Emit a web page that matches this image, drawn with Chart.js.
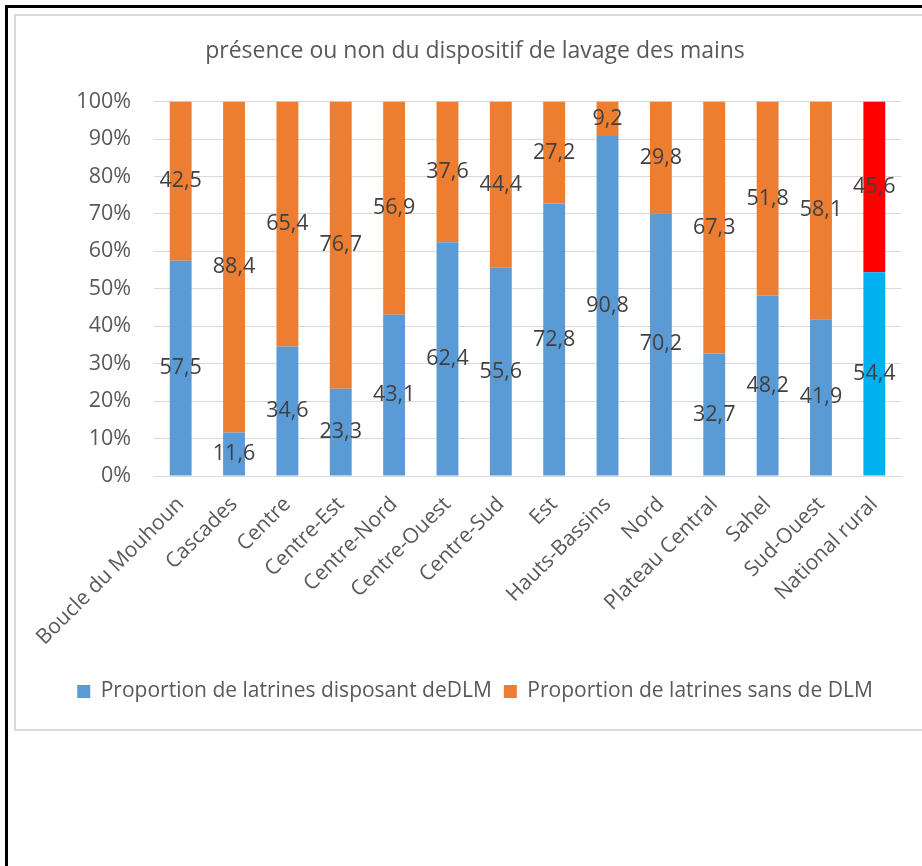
<!DOCTYPE html>
<html>
<head>
<meta charset="utf-8">
<script src="https://cdn.jsdelivr.net/npm/chart.js@4"></script>
<style>
    html, body { margin: 0; padding: 0; background: #fff; overflow: hidden; }
    #frame {
        position: absolute; left: 5px; top: 5px;
        width: 1000px; height: 1000px;
        border: 3px solid #000;
    }
    #box {
        position: absolute; left: 14px; top: 14px;
        width: 1000px; height: 713px;
        border: 2px solid #d9d9d9;
        background: #fff;
    }
    #wrap { position: absolute; left: 16px; top: 16px; width: 906px; height: 711px; }
</style>
</head>
<body>
<div id="frame"></div>
<div id="box"></div>
<div id="wrap"><canvas id="dlmChart"></canvas></div>
<script>
// ===============================================
// DATA
// ===============================================
const regions = ['Boucle du Mouhoun', 'Cascades', 'Centre', 'Centre-Est', 'Centre-Nord', 'Centre-Ouest',
    'Centre-Sud', 'Est', 'Hauts-Bassins', 'Nord', 'Plateau Central', 'Sahel', 'Sud-Ouest', 'National rural'];
const avecDLM = [57.5, 11.6, 34.6, 23.3, 43.1, 62.4, 55.6, 72.8, 90.8, 70.2, 32.7, 48.2, 41.9, 54.4];
const sansDLM = [42.5, 88.4, 65.4, 76.7, 56.9, 37.6, 44.4, 27.2, 9.2, 29.8, 67.3, 51.8, 58.1, 45.6];
const seriesNames = ['Proportion de latrines disposant deDLM', 'Proportion de latrines sans de DLM'];
const yTicks = [0, 10, 20, 30, 40, 50, 60, 70, 80, 90, 100];

const FONT = "'Open Sans', sans-serif";
const GREY = '#595959';
const last = regions.length - 1;

// value labels in the middle of each segment, French decimal comma
const segmentLabels = {
    id: 'segmentLabels',
    afterDatasetsDraw(chart) {
        const ctx = chart.ctx;
        ctx.save();
        ctx.font = '21.5px ' + FONT;
        ctx.fillStyle = '#404040';
        ctx.textAlign = 'center';
        ctx.textBaseline = 'middle';
        chart.data.datasets.forEach((ds, i) => {
            chart.getDatasetMeta(i).data.forEach((bar, j) => {
                const p = bar.getCenterPoint();
                ctx.fillText(String(ds.data[j]).replace('.', ','), p.x, p.y);
            });
        });
        ctx.restore();
    }
};

new Chart(document.getElementById('dlmChart'), {
    type: 'bar',
    data: {
        labels: regions,
        datasets: [{
            label: seriesNames[0],
            data: avecDLM,
            backgroundColor: (c) => c.dataIndex === last ? '#00B0F0' : '#5B9BD5',
            categoryPercentage: 1,
            barPercentage: 0.41
        }, {
            label: seriesNames[1],
            data: sansDLM,
            backgroundColor: (c) => c.dataIndex === last ? '#FF0000' : '#ED7D31',
            categoryPercentage: 1,
            barPercentage: 0.41
        }]
    },
    options: {
        responsive: true,
        maintainAspectRatio: false,
        animation: false,
        layout: { padding: { left: 33, right: 21, top: 0, bottom: 15 } },
        scales: {
            x: {
                stacked: true,
                grid: { display: false },
                border: { display: true, color: '#d9d9d9', width: 1 },
                ticks: {
                    color: GREY,
                    font: { family: FONT, size: 21 },
                    minRotation: 45,
                    maxRotation: 45,
                    autoSkip: false,
                    padding: 8
                },
                afterFit: (s) => { s.height = 193; }
            },
            y: {
                stacked: true,
                min: 0,
                max: 100,
                afterBuildTicks: (s) => { s.ticks = yTicks.map(v => ({ value: v })); },
                grid: { color: '#d9d9d9', drawTicks: false },
                border: { display: false },
                ticks: {
                    color: GREY,
                    font: { family: FONT, size: 21.5 },
                    padding: 23,
                    callback: (v) => v + '%'
                },
                afterFit: (s) => { s.width = 105; }
            }
        },
        plugins: {
            title: {
                display: true,
                text: 'présence ou non du dispositif de lavage des mains',
                color: GREY,
                font: { family: FONT, size: 23, weight: 'normal' },
                padding: { top: 22, bottom: 36 }
            },
            legend: {
                position: 'bottom',
                labels: {
                    color: GREY,
                    font: { family: FONT, size: 21 },
                    boxWidth: 13,
                    boxHeight: 13,
                    padding: 12
                }
            },
            tooltip: { enabled: false }
        }
    },
    plugins: [segmentLabels]
});
</script>
</body>
</html>
